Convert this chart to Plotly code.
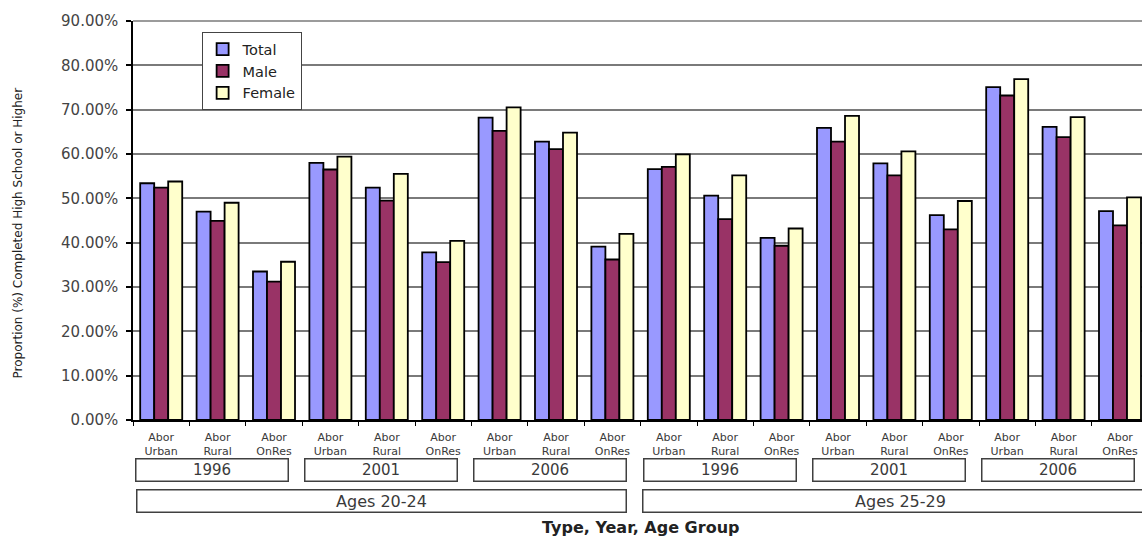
import plotly.graph_objects as go

# Category labels (type of area), years and age groups
types = ["Abor Urban", "Abor Rural", "Abor OnRes"]
years = ["1996", "2001", "2006"]
age_groups = ["Ages 20-24", "Ages 25-29"]

categories = [t for a in age_groups for y in years for t in types]

# Proportion completed high school or higher (fraction)
total = [0.534, 0.470, 0.335, 0.580, 0.524, 0.378, 0.682, 0.628, 0.391,
         0.566, 0.506, 0.411, 0.659, 0.579, 0.462, 0.751, 0.661, 0.471]
male = [0.524, 0.449, 0.312, 0.565, 0.495, 0.356, 0.652, 0.611, 0.362,
        0.571, 0.453, 0.393, 0.628, 0.552, 0.430, 0.732, 0.638, 0.439]
female = [0.538, 0.490, 0.357, 0.594, 0.555, 0.404, 0.705, 0.648, 0.420,
          0.599, 0.552, 0.432, 0.686, 0.606, 0.494, 0.769, 0.683, 0.502]

y_ticks = [0.0, 0.1, 0.2, 0.3, 0.4, 0.5, 0.6, 0.7, 0.8, 0.9]

x = list(range(len(categories)))
tick_text = [c.replace(" ", "<br>") for c in categories]

FONT = "DejaVu Sans"
TXT = "#3a3a3a"

fig = go.Figure()
series = [("Total", total, "#9999FF"), ("Male", male, "#993366"), ("Female", female, "#FFFFCC")]
for name, vals, color in series:
    fig.add_trace(go.Bar(
        x=x, y=vals, name=name,
        marker=dict(color=color, line=dict(color="black", width=1.8)),
    ))

# Year boxes beneath the category labels, and the age-group boxes below them
annotations = []
n_types = len(types)
for ai, age in enumerate(age_groups):
    for yi, yr in enumerate(years):
        start = (ai * len(years) + yi) * n_types
        center = start + (n_types - 1) / 2 - 0.1
        annotations.append(dict(
            x=center, y=-0.1253, xref="x", yref="paper", text=yr, showarrow=False,
            xanchor="center", yanchor="middle",
            width=149, height=19, borderpad=1, borderwidth=1.5, bordercolor="#404040",
            bgcolor="white", valign="top", font=dict(family=FONT, size=15, color=TXT),
        ))
age_centers = [3.9, 13.1]
age_widths = [486, 512]
for age, c, w in zip(age_groups, age_centers, age_widths):
    annotations.append(dict(
        x=c, y=-0.2018, xref="x", yref="paper", text=age, showarrow=False,
        xanchor="center", yanchor="middle",
        width=w, height=19, borderpad=1, borderwidth=1.5, bordercolor="#404040",
        bgcolor="white", valign="middle", font=dict(family=FONT, size=16, color=TXT),
    ))
annotations.append(dict(
    x=0.503, y=-0.27, xref="paper", yref="paper", text="<b>Type, Year, Age Group</b>",
    showarrow=False, xanchor="center", yanchor="middle",
    font=dict(family=FONT, size=16, color="#222"),
))
annotations.append(dict(
    x=-0.114, y=0.47, xref="paper", yref="paper",
    text="Proportion (%) Completed High School or Higher", textangle=-90,
    showarrow=False, xanchor="center", yanchor="middle",
    font=dict(family=FONT, size=12, color="#222"),
))

fig.update_layout(
    width=1142, height=537,
    margin=dict(l=133, r=0, t=21, b=117),
    paper_bgcolor="white", plot_bgcolor="white",
    barmode="group", bargap=0.255, bargroupgap=0,
    showlegend=True,
    legend=dict(
        x=0.068, y=0.972, xanchor="left", yanchor="top",
        bgcolor="white", bordercolor="#444", borderwidth=1,
        font=dict(family=FONT, size=14.5, color="#222"),
        itemwidth=30, tracegroupgap=0,
    ),
    annotations=annotations,
    shapes=[dict(type="line", xref="paper", yref="paper", x0=0, x1=1, y0=1, y1=1,
                 line=dict(color="#7a7a7a", width=1.5))],
    xaxis=dict(
        range=[-0.5, 17.39], tickmode="array", tickvals=x, ticktext=tick_text,
        ticks="", showgrid=False, showline=True, linecolor="black", linewidth=1.5,
        tickfont=dict(family=FONT, size=11, color=TXT), ticklabelstandoff=6,
        minor=dict(tickmode="linear", tick0=-0.5, dtick=1, ticks="outside",
                   ticklen=4, tickcolor="black", tickwidth=1, showgrid=False),
        fixedrange=True,
    ),
    yaxis=dict(
        range=[0, 0.9], tickmode="array", tickvals=y_ticks, tickformat=".2%",
        ticks="outside", ticklen=5, tickcolor="black", tickwidth=1.5,
        showgrid=True, gridcolor="#7a7a7a", gridwidth=1.5,
        showline=True, linecolor="black", linewidth=1.5, zeroline=False,
        tickfont=dict(family=FONT, size=15, color="#444"), ticklabelstandoff=5,
        fixedrange=True,
    ),
)

fig.write_html("out.html", config={"displayModeBar": False})
